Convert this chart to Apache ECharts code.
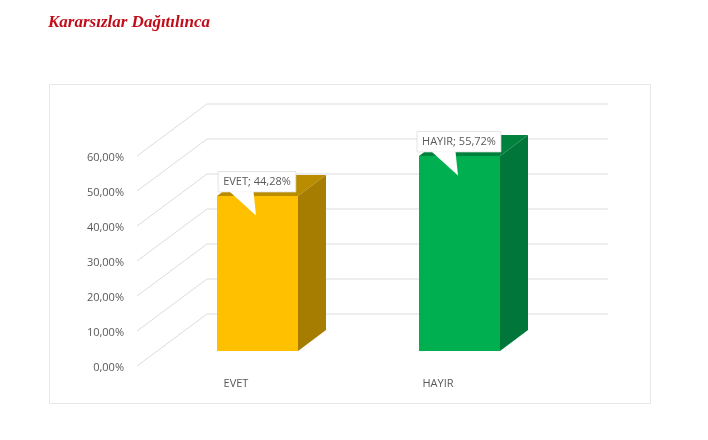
<!DOCTYPE html>
<html><head><meta charset="utf-8">
<style>html,body{margin:0;padding:0;background:#fff}#c{width:708px;height:440px}</style>
<script src="https://cdn.jsdelivr.net/npm/echarts@6/dist/echarts.min.js"></script>
</head><body><div id="c"></div>
<script>
const categories = ['EVET', 'HAYIR'];
const values = [44.28, 55.72];
const yTicks = [0, 10, 20, 30, 40, 50, 60];
const frontColors = ['#FFC000', '#00B050'];
const sideColors = ['#A67D00', '#00763A'];
const topColors = ['#BA8D00', '#00823E'];

const WALL_DX = 70, WALL_DY = -52;   // floor depth, front plane to back wall
const BAR_DX = 21.5, BAR_DY = -15;   // bar offset on the floor
const DEPTH_DX = 28, DEPTH_DY = -21; // bar depth
const fmt = v => v.toFixed(2).replace('.', ',') + '%';
const FONT = '"Open Sans", sans-serif';

const chart = echarts.init(document.getElementById('c'), null, {renderer: 'canvas'});
chart.setOption({
  animation: false,
  backgroundColor: '#fff',
  title: {
    text: 'Kararsızlar Dağıtılınca', left: 43, top: 9,
    textStyle: {fontFamily: '"Liberation Serif", serif', fontStyle: 'italic', fontWeight: 'bold', fontSize: 17, color: '#C00D1A'}
  },
  graphic: [{
    type: 'rect', left: 49, top: 84, z: -1,
    shape: {width: 601, height: 319},
    style: {fill: '#fff', stroke: '#E6E6E6', lineWidth: 1}
  }],
  grid: {left: 135, top: 156, width: 404, height: 210, containLabel: false},
  xAxis: {
    type: 'category', data: categories,
    axisLine: {show: false}, axisTick: {show: false},
    axisLabel: {color: '#595959', fontFamily: FONT, fontSize: 11, margin: 12}
  },
  yAxis: {
    type: 'value', min: 0, max: 60, interval: 10,
    axisLine: {show: false}, axisTick: {show: false}, splitLine: {show: false},
    axisLabel: {
      margin: 11,
      formatter: v => '{a|' + fmt(v) + '}',
      rich: {a: {color: '#595959', fontFamily: FONT, fontSize: 11, padding: [4, 0, 0, 0]}}
    }
  },
  series: [{
    type: 'custom', z: 1, silent: true, clip: false,
    data: yTicks,
    encode: {y: 0},
    renderItem(params, api) {
      const cs = params.coordSys;
      const y = api.coord([0, api.value(0)])[1];
      const x0 = cs.x + 2;
      return {
        type: 'polyline',
        shape: {points: [[x0, y], [x0 + WALL_DX, y + WALL_DY], [cs.x + cs.width + WALL_DX - 1, y + WALL_DY]]},
        style: {fill: null, stroke: '#DDDDDD', lineWidth: 1}
      };
    }
  }, {
    type: 'custom', z: 2, silent: true, clip: false,
    data: values.map((v, i) => [i, v]),
    encode: {x: 0, y: 1},
    renderItem(params, api) {
      const i = api.value(0), v = api.value(1);
      const w = api.size([1, 0])[0] * 0.401;
      const c = api.coord([i, v]), b = api.coord([i, 0]);
      const l = c[0] - w / 2 + BAR_DX, r = l + w;
      const t = c[1] + BAR_DY, bt = b[1] + BAR_DY;
      const dx = DEPTH_DX, dy = DEPTH_DY;
      return {type: 'group', children: [
        {type: 'polygon', shape: {points: [[l, t], [r, t], [r + dx, t + dy], [l + dx, t + dy]]}, style: {fill: topColors[i]}},
        {type: 'polygon', shape: {points: [[r, t], [r + dx, t + dy], [r + dx, bt + dy], [r, bt]]}, style: {fill: sideColors[i]}},
        {type: 'rect', shape: {x: l, y: t, width: w, height: bt - t}, style: {fill: frontColors[i]}}
      ]};
    }
  }, {
    type: 'custom', z: 3, silent: true, clip: false,
    data: values.map((v, i) => [i, v]),
    encode: {x: 0, y: 1},
    renderItem(params, api) {
      const i = api.value(0), v = api.value(1);
      const c = api.coord([i, v]);
      const cx = c[0] + BAR_DX, t = c[1] + BAR_DY;
      const text = categories[i] + '; ' + fmt(v);
      const tw = echarts.format.getTextRect(text, '11px "Open Sans"').width;
      const bw = tw + 10, bh = 20.5, by = t - 24.5;
      return {type: 'group', children: [
        {type: 'rect', shape: {x: cx - bw / 2 - 0.5, y: by, width: bw, height: bh},
         style: {fill: '#fff', stroke: '#D9D9D9', lineWidth: 0.7}},
        {type: 'polygon', shape: {points: [[cx - 28, by + bh - 0.5], [cx - 4, by + bh - 0.5], [cx - 1.5, t + 19.5]]}, style: {fill: '#fff'}},
        {type: 'text', style: {text, x: cx - 0.5, y: by + bh / 2, align: 'center', verticalAlign: 'middle',
          fill: '#595959', font: '11px "Open Sans", sans-serif'}}
      ]};
    }
  }]
});
</script></body></html>
